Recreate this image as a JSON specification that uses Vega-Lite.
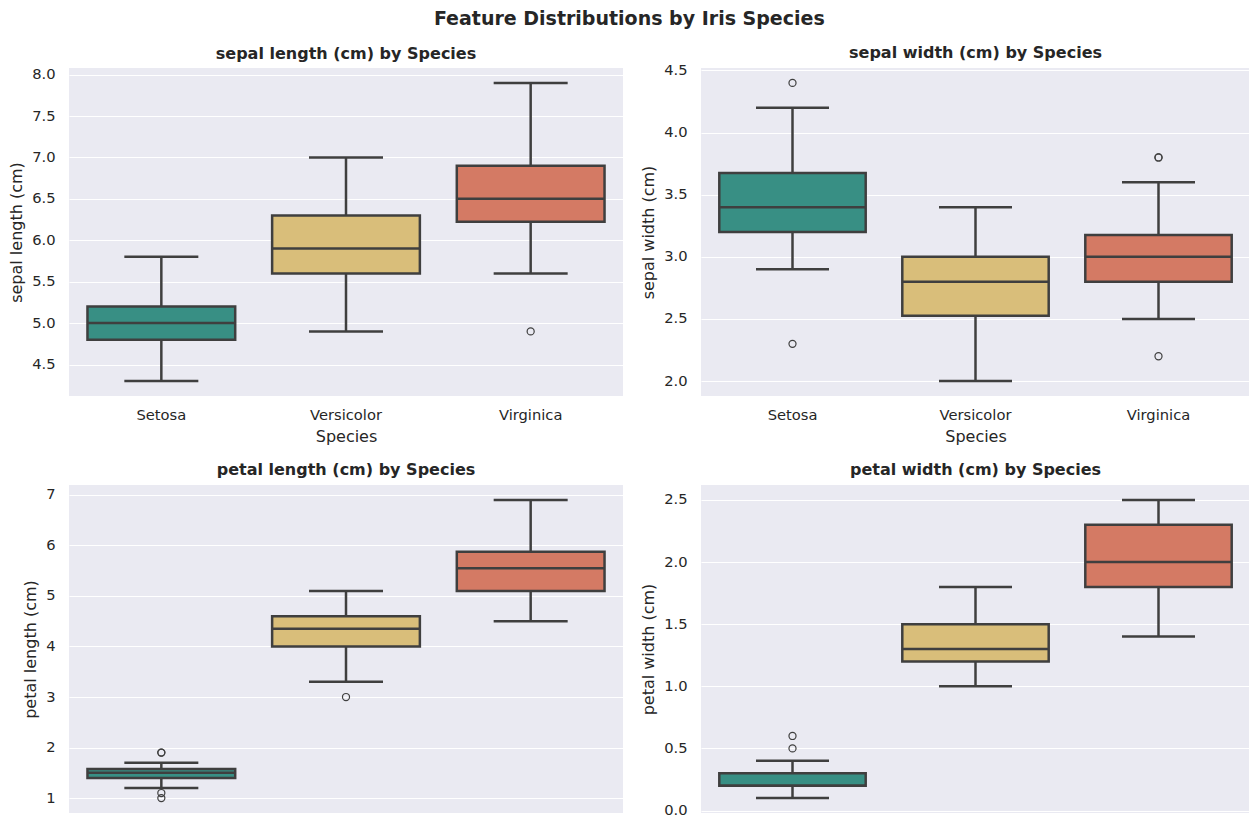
{
  "$schema": "https://vega.github.io/schema/vega-lite/v6.json",
  "padding": {"left": 8, "top": 9, "right": 0, "bottom": 0},
  "background": "#FFFFFF",
  "title": {"text": "Feature Distributions by Iris Species", "fontSize": 19, "anchor": "middle", "offset": 16},
  "datasets": {
    "stats": [
      {"feature": "sepal length (cm)", "species": "Setosa", "lower": 4.3, "q1": 4.8, "median": 5.0, "q3": 5.2, "upper": 5.8},
      {"feature": "sepal length (cm)", "species": "Versicolor", "lower": 4.9, "q1": 5.6, "median": 5.9, "q3": 6.3, "upper": 7.0},
      {"feature": "sepal length (cm)", "species": "Virginica", "lower": 5.6, "q1": 6.225, "median": 6.5, "q3": 6.9, "upper": 7.9},
      {"feature": "sepal width (cm)", "species": "Setosa", "lower": 2.9, "q1": 3.2, "median": 3.4, "q3": 3.675, "upper": 4.2},
      {"feature": "sepal width (cm)", "species": "Versicolor", "lower": 2.0, "q1": 2.525, "median": 2.8, "q3": 3.0, "upper": 3.4},
      {"feature": "sepal width (cm)", "species": "Virginica", "lower": 2.5, "q1": 2.8, "median": 3.0, "q3": 3.175, "upper": 3.6},
      {"feature": "petal length (cm)", "species": "Setosa", "lower": 1.2, "q1": 1.4, "median": 1.5, "q3": 1.575, "upper": 1.7},
      {"feature": "petal length (cm)", "species": "Versicolor", "lower": 3.3, "q1": 4.0, "median": 4.35, "q3": 4.6, "upper": 5.1},
      {"feature": "petal length (cm)", "species": "Virginica", "lower": 4.5, "q1": 5.1, "median": 5.55, "q3": 5.875, "upper": 6.9},
      {"feature": "petal width (cm)", "species": "Setosa", "lower": 0.1, "q1": 0.2, "median": 0.2, "q3": 0.3, "upper": 0.4},
      {"feature": "petal width (cm)", "species": "Versicolor", "lower": 1.0, "q1": 1.2, "median": 1.3, "q3": 1.5, "upper": 1.8},
      {"feature": "petal width (cm)", "species": "Virginica", "lower": 1.4, "q1": 1.8, "median": 2.0, "q3": 2.3, "upper": 2.5}
    ],
    "outliers": [
      {"feature": "sepal length (cm)", "species": "Virginica", "value": 4.9},
      {"feature": "sepal width (cm)", "species": "Setosa", "value": 4.4},
      {"feature": "sepal width (cm)", "species": "Setosa", "value": 2.3},
      {"feature": "sepal width (cm)", "species": "Virginica", "value": 3.8},
      {"feature": "sepal width (cm)", "species": "Virginica", "value": 3.8},
      {"feature": "sepal width (cm)", "species": "Virginica", "value": 2.2},
      {"feature": "petal length (cm)", "species": "Setosa", "value": 1.9},
      {"feature": "petal length (cm)", "species": "Setosa", "value": 1.9},
      {"feature": "petal length (cm)", "species": "Setosa", "value": 1.0},
      {"feature": "petal length (cm)", "species": "Setosa", "value": 1.1},
      {"feature": "petal length (cm)", "species": "Versicolor", "value": 3.0},
      {"feature": "petal width (cm)", "species": "Setosa", "value": 0.5},
      {"feature": "petal width (cm)", "species": "Setosa", "value": 0.6}
    ]
  },
  "columns": 2,
  "spacing": {"row": 89, "column": 78},
  "bounds": "flush",
  "align": "all",
  "concat": [
    {
      "width": 554, "height": 328,
      "title": {"text": "sepal length (cm) by Species"},
      "encoding": {"x": {"field": "species", "type": "nominal", "sort": ["Setosa", "Versicolor", "Virginica"], "scale": {"type": "band", "paddingInner": 0, "paddingOuter": 0}, "axis": {"title": "Species"}}},
      "layer": [
        {"data": {"name": "stats"}, "transform": [{"filter": "datum.feature === 'sepal length (cm)'"}],
         "mark": {"type": "rule", "color": "#3f3f3f", "strokeWidth": 2.5},
         "encoding": {"y": {"field": "lower", "type": "quantitative", "title": "sepal length (cm)", "scale": {"domain": [4.12, 8.08], "nice": false, "zero": false}, "axis": {"values": [4.5, 5.0, 5.5, 6.0, 6.5, 7.0, 7.5, 8.0], "format": ".1f"}}, "y2": {"field": "upper"}}},
        {"data": {"name": "stats"}, "transform": [{"filter": "datum.feature === 'sepal length (cm)'"}],
         "mark": {"type": "bar", "width": {"band": 0.8}, "stroke": "#3f3f3f", "strokeWidth": 2.5, "opacity": 1},
         "encoding": {"y": {"field": "q1", "type": "quantitative", "title": "sepal length (cm)"}, "y2": {"field": "q3"},
           "color": {"field": "species", "type": "nominal", "scale": {"domain": ["Setosa", "Versicolor", "Virginica"], "range": ["#388f84", "#d9be7a", "#d47a64"]}, "legend": null}}},
        {"data": {"name": "stats"}, "transform": [{"filter": "datum.feature === 'sepal length (cm)'"}],
         "mark": {"type": "tick", "color": "#3f3f3f", "thickness": 2.5, "size": 148, "opacity": 1},
         "encoding": {"y": {"field": "median", "type": "quantitative", "title": "sepal length (cm)"}}},
        {"data": {"name": "stats"}, "transform": [{"filter": "datum.feature === 'sepal length (cm)'"}],
         "mark": {"type": "tick", "color": "#3f3f3f", "thickness": 2.5, "size": 74, "opacity": 1},
         "encoding": {"y": {"field": "lower", "type": "quantitative", "title": "sepal length (cm)"}}},
        {"data": {"name": "stats"}, "transform": [{"filter": "datum.feature === 'sepal length (cm)'"}],
         "mark": {"type": "tick", "color": "#3f3f3f", "thickness": 2.5, "size": 74, "opacity": 1},
         "encoding": {"y": {"field": "upper", "type": "quantitative", "title": "sepal length (cm)"}}},
        {"data": {"name": "outliers"}, "transform": [{"filter": "datum.feature === 'sepal length (cm)'"}],
         "mark": {"type": "point", "shape": "circle", "filled": false, "stroke": "#3f3f3f", "strokeWidth": 1.2, "size": 50, "opacity": 1},
         "encoding": {"y": {"field": "value", "type": "quantitative", "title": "sepal length (cm)"}}}
      ]
    },
    {
      "width": 549, "height": 328,
      "title": {"text": "sepal width (cm) by Species", "offset": 1.8},
      "encoding": {"x": {"field": "species", "type": "nominal", "sort": ["Setosa", "Versicolor", "Virginica"], "scale": {"type": "band", "paddingInner": 0, "paddingOuter": 0}, "axis": {"title": "Species"}}},
      "layer": [
        {"data": {"name": "stats"}, "transform": [{"filter": "datum.feature === 'sepal width (cm)'"}],
         "mark": {"type": "rule", "color": "#3f3f3f", "strokeWidth": 2.5},
         "encoding": {"y": {"field": "lower", "type": "quantitative", "title": "sepal width (cm)", "scale": {"domain": [1.88, 4.52], "nice": false, "zero": false}, "axis": {"values": [2.0, 2.5, 3.0, 3.5, 4.0, 4.5], "format": ".1f"}}, "y2": {"field": "upper"}}},
        {"data": {"name": "stats"}, "transform": [{"filter": "datum.feature === 'sepal width (cm)'"}],
         "mark": {"type": "bar", "width": {"band": 0.8}, "stroke": "#3f3f3f", "strokeWidth": 2.5, "opacity": 1},
         "encoding": {"y": {"field": "q1", "type": "quantitative", "title": "sepal width (cm)"}, "y2": {"field": "q3"},
           "color": {"field": "species", "type": "nominal", "scale": {"domain": ["Setosa", "Versicolor", "Virginica"], "range": ["#388f84", "#d9be7a", "#d47a64"]}, "legend": null}}},
        {"data": {"name": "stats"}, "transform": [{"filter": "datum.feature === 'sepal width (cm)'"}],
         "mark": {"type": "tick", "color": "#3f3f3f", "thickness": 2.5, "size": 146, "opacity": 1},
         "encoding": {"y": {"field": "median", "type": "quantitative", "title": "sepal width (cm)"}}},
        {"data": {"name": "stats"}, "transform": [{"filter": "datum.feature === 'sepal width (cm)'"}],
         "mark": {"type": "tick", "color": "#3f3f3f", "thickness": 2.5, "size": 73, "opacity": 1},
         "encoding": {"y": {"field": "lower", "type": "quantitative", "title": "sepal width (cm)"}}},
        {"data": {"name": "stats"}, "transform": [{"filter": "datum.feature === 'sepal width (cm)'"}],
         "mark": {"type": "tick", "color": "#3f3f3f", "thickness": 2.5, "size": 73, "opacity": 1},
         "encoding": {"y": {"field": "upper", "type": "quantitative", "title": "sepal width (cm)"}}},
        {"data": {"name": "outliers"}, "transform": [{"filter": "datum.feature === 'sepal width (cm)'"}],
         "mark": {"type": "point", "shape": "circle", "filled": false, "stroke": "#3f3f3f", "strokeWidth": 1.2, "size": 50, "opacity": 1},
         "encoding": {"y": {"field": "value", "type": "quantitative", "title": "sepal width (cm)"}}}
      ]
    },
    {
      "width": 554, "height": 328,
      "title": {"text": "petal length (cm) by Species", "offset": 7.3},
      "encoding": {"x": {"field": "species", "type": "nominal", "sort": ["Setosa", "Versicolor", "Virginica"], "scale": {"type": "band", "paddingInner": 0, "paddingOuter": 0}, "axis": null}},
      "layer": [
        {"data": {"name": "stats"}, "transform": [{"filter": "datum.feature === 'petal length (cm)'"}],
         "mark": {"type": "rule", "color": "#3f3f3f", "strokeWidth": 2.5},
         "encoding": {"y": {"field": "lower", "type": "quantitative", "title": "petal length (cm)", "scale": {"domain": [0.705, 7.195], "nice": false, "zero": false}, "axis": {"values": [1, 2, 3, 4, 5, 6, 7], "format": "d"}}, "y2": {"field": "upper"}}},
        {"data": {"name": "stats"}, "transform": [{"filter": "datum.feature === 'petal length (cm)'"}],
         "mark": {"type": "bar", "width": {"band": 0.8}, "stroke": "#3f3f3f", "strokeWidth": 2.5, "opacity": 1},
         "encoding": {"y": {"field": "q1", "type": "quantitative", "title": "petal length (cm)"}, "y2": {"field": "q3"},
           "color": {"field": "species", "type": "nominal", "scale": {"domain": ["Setosa", "Versicolor", "Virginica"], "range": ["#388f84", "#d9be7a", "#d47a64"]}, "legend": null}}},
        {"data": {"name": "stats"}, "transform": [{"filter": "datum.feature === 'petal length (cm)'"}],
         "mark": {"type": "tick", "color": "#3f3f3f", "thickness": 2.5, "size": 148, "opacity": 1},
         "encoding": {"y": {"field": "median", "type": "quantitative", "title": "petal length (cm)"}}},
        {"data": {"name": "stats"}, "transform": [{"filter": "datum.feature === 'petal length (cm)'"}],
         "mark": {"type": "tick", "color": "#3f3f3f", "thickness": 2.5, "size": 74, "opacity": 1},
         "encoding": {"y": {"field": "lower", "type": "quantitative", "title": "petal length (cm)"}}},
        {"data": {"name": "stats"}, "transform": [{"filter": "datum.feature === 'petal length (cm)'"}],
         "mark": {"type": "tick", "color": "#3f3f3f", "thickness": 2.5, "size": 74, "opacity": 1},
         "encoding": {"y": {"field": "upper", "type": "quantitative", "title": "petal length (cm)"}}},
        {"data": {"name": "outliers"}, "transform": [{"filter": "datum.feature === 'petal length (cm)'"}],
         "mark": {"type": "point", "shape": "circle", "filled": false, "stroke": "#3f3f3f", "strokeWidth": 1.2, "size": 50, "opacity": 1},
         "encoding": {"y": {"field": "value", "type": "quantitative", "title": "petal length (cm)"}}}
      ]
    },
    {
      "width": 549, "height": 328,
      "title": {"text": "petal width (cm) by Species", "offset": 7.3},
      "encoding": {"x": {"field": "species", "type": "nominal", "sort": ["Setosa", "Versicolor", "Virginica"], "scale": {"type": "band", "paddingInner": 0, "paddingOuter": 0}, "axis": null}},
      "layer": [
        {"data": {"name": "stats"}, "transform": [{"filter": "datum.feature === 'petal width (cm)'"}],
         "mark": {"type": "rule", "color": "#3f3f3f", "strokeWidth": 2.5},
         "encoding": {"y": {"field": "lower", "type": "quantitative", "title": "petal width (cm)", "scale": {"domain": [-0.02, 2.62], "nice": false, "zero": false}, "axis": {"values": [0.0, 0.5, 1.0, 1.5, 2.0, 2.5], "format": ".1f"}}, "y2": {"field": "upper"}}},
        {"data": {"name": "stats"}, "transform": [{"filter": "datum.feature === 'petal width (cm)'"}],
         "mark": {"type": "bar", "width": {"band": 0.8}, "stroke": "#3f3f3f", "strokeWidth": 2.5, "opacity": 1},
         "encoding": {"y": {"field": "q1", "type": "quantitative", "title": "petal width (cm)"}, "y2": {"field": "q3"},
           "color": {"field": "species", "type": "nominal", "scale": {"domain": ["Setosa", "Versicolor", "Virginica"], "range": ["#388f84", "#d9be7a", "#d47a64"]}, "legend": null}}},
        {"data": {"name": "stats"}, "transform": [{"filter": "datum.feature === 'petal width (cm)'"}],
         "mark": {"type": "tick", "color": "#3f3f3f", "thickness": 2.5, "size": 146, "opacity": 1},
         "encoding": {"y": {"field": "median", "type": "quantitative", "title": "petal width (cm)"}}},
        {"data": {"name": "stats"}, "transform": [{"filter": "datum.feature === 'petal width (cm)'"}],
         "mark": {"type": "tick", "color": "#3f3f3f", "thickness": 2.5, "size": 73, "opacity": 1},
         "encoding": {"y": {"field": "lower", "type": "quantitative", "title": "petal width (cm)"}}},
        {"data": {"name": "stats"}, "transform": [{"filter": "datum.feature === 'petal width (cm)'"}],
         "mark": {"type": "tick", "color": "#3f3f3f", "thickness": 2.5, "size": 73, "opacity": 1},
         "encoding": {"y": {"field": "upper", "type": "quantitative", "title": "petal width (cm)"}}},
        {"data": {"name": "outliers"}, "transform": [{"filter": "datum.feature === 'petal width (cm)'"}],
         "mark": {"type": "point", "shape": "circle", "filled": false, "stroke": "#3f3f3f", "strokeWidth": 1.2, "size": 50, "opacity": 1},
         "encoding": {"y": {"field": "value", "type": "quantitative", "title": "petal width (cm)"}}}
      ]
    }
  ],
  "config": {
    "font": "DejaVu Sans",
    "view": {"fill": "#EAEAF2", "stroke": null},
    "axis": {"domain": false, "ticks": false, "tickSize": 0, "labelFontSize": 14.7, "labelColor": "#262626", "titleFontSize": 16, "titleFontWeight": "normal", "titleColor": "#262626", "gridColor": "#FFFFFF", "gridWidth": 1.2, "gridOpacity": 1, "labelPadding": 14, "titlePadding": 7},
    "axisX": {"grid": false, "labelPadding": 11.5, "titlePadding": 6.5, "labelAngle": 0},
    "title": {"fontSize": 16, "fontWeight": "bold", "color": "#262626", "offset": 4.3}
  }
}
